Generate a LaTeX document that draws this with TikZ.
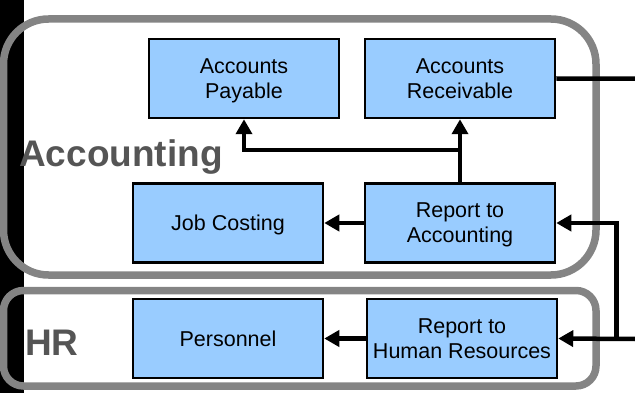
\documentclass[tikz,border=0pt]{standalone}
\usepackage{fontspec}
\setmainfont{Liberation Sans}
\usepackage{tikz}
\usetikzlibrary{arrows.meta, calc}

\definecolor{boxblue}{HTML}{99CCFF}
\definecolor{groupgray}{HTML}{848484}
\definecolor{labelgray}{HTML}{555555}

\tikzset{
  task/.style={draw=black, line width=2.5pt, fill=boxblue, minimum width=190pt, minimum height=79pt,
    align=center, inner sep=0pt, text depth=0pt, font=\fontsize{21.5}{25}\selectfont},
  group/.style={draw=groupgray, line width=7.5pt},
  grouplabel/.style={text=labelgray, font=\bfseries\fontsize{37}{40}\selectfont, anchor=base west, inner sep=0pt},
  link/.style={line width=4.5pt},
  flow/.style={link, -{Triangle[length=15pt,width=16pt]}}
}

\begin{document}
\begin{tikzpicture}[x=1pt,y=-1pt]
  \useasboundingbox (0,0) rectangle (635,393);
  \fill[black] (0,0) rectangle (24,393);

  % groups
  \draw[group, rounded corners=45pt] (3.5,19) rectangle (596,275);
  \draw[group, rounded corners=20pt] (3.5,290.5) rectangle (596,386);
  \node[grouplabel] (acclabel) at (19,167) {Accounting};
  \node[grouplabel] (hrlabel) at (25,355) {HR};

  % boxes
  \node[task] (ap) at (244,78.5) {Accounts\\Payable};
  \node[task] (ar) at (460,78.5) {Accounts\\Receivable};
  \node[task] (jc) at (228,223) {Job Costing};
  \node[task] (rta) at (460,223) {Report to\\Accounting};
  \node[task] (pers) at (228,338.5) {Personnel};
  \node[task] (rthr) at (462,338.5) {Report to\\Human Resources};

  \coordinate (split) at (460,150);
  \coordinate (outar) at (635,78.7);
  \coordinate (inhr) at (635,339);
  \coordinate (fork) at (616.5,339);

  % connectors
  \draw[flow] (rta.north) -- (ar.south);
  \draw[flow] (split) -| (ap.south);
  \draw[flow] (rta.west) -- (jc.east);
  \draw[flow] (rthr.west) -- (pers.east);
  \draw[link] (ar.east) -- (outar);
  \draw[flow] (inhr) -- (rthr.east);
  \draw[flow] (fork) |- (rta.east);
\end{tikzpicture}
\end{document}
